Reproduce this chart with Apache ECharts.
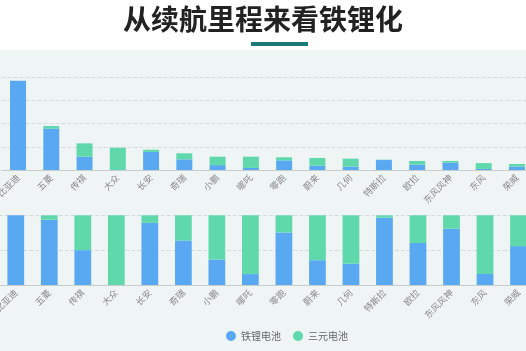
<!DOCTYPE html>
<html>
<head>
<meta charset="utf-8">
<script src="https://cdn.jsdelivr.net/npm/echarts@6/dist/echarts.min.js"></script>
<style>
html,body{margin:0;padding:0;background:#fff;}
#main{width:526px;height:351px;}
</style>
</head>
<body>
<div id="main"></div>
<script>
// 品牌
var brands = ['比亚迪','五菱','传祺','大众','长安','奇瑞','小鹏','哪吒','零跑','蔚来','几何','特斯拉','欧拉','东风风神','东风','荣威'];
// 铁锂电池 / 三元电池
var lfp = [38.5,17.8,5.75,0,7.8,4.6,2.1,0.9,4.15,1.85,1.5,4.3,2.35,3.15,0.47,1.45];
var ncm = [0,1.2,5.75,9.6,0.95,2.6,3.65,4.85,1.35,3.35,3.4,0.15,1.55,0.75,2.5,1.15];

// 占比
var lfpPct = [], ncmPct = [];
for (var i = 0; i < brands.length; i++) {
    var sum = lfp[i] + ncm[i];
    lfpPct.push(lfp[i] / sum * 100);
    ncmPct.push(ncm[i] / sum * 100);
}

var blue = '#58a9f1', green = '#5fd8ab';

var axisLabel = {interval: 0, rotate: 45, fontSize: 9, color: '#888', margin: 6, fontFamily: 'Noto Sans CJK SC'};
var axisLine = {lineStyle: {color: '#c8cccc'}};
var axisTick = {alignWithLabel: true, length: 3, lineStyle: {color: '#c8cccc'}};
var splitLine = {lineStyle: {type: 'dashed', color: '#d6dada'}};

var chart = echarts.init(document.getElementById('main'));
var option = {
    backgroundColor: '#fff',
    animation: false,
    title: {
        text: '从续航里程来看铁锂化',
        left: 'center',
        top: 0,
        textStyle: {fontSize: 28, fontWeight: 'bold', color: '#222', fontFamily: 'Noto Sans CJK SC'}
    },
    graphic: [
        {type: 'rect', z: -10, shape: {x: 0, y: 50, width: 526, height: 301}, style: {fill: '#eff4f4'}},
        {type: 'rect', shape: {x: 251, y: 42, width: 57, height: 4}, style: {fill: '#1b7b7b'}}
    ],
    legend: {
        top: 326,
        left: 221,
        icon: 'circle',
        itemWidth: 10,
        itemHeight: 10,
        itemGap: 12,
        textStyle: {fontSize: 10, color: '#666', fontFamily: 'Noto Sans CJK SC'},
        data: ['铁锂电池','三元电池']
    },
    grid: [
        {left: 1.4, top: 77.3, width: 532.2, height: 92.7, containLabel: false, outerBoundsMode: 'none'},
        {left: -1, top: 215.3, width: 536.3, height: 69.7, containLabel: false, outerBoundsMode: 'none'}
    ],
    xAxis: [
        {type: 'category', gridIndex: 0, data: brands, axisLabel: axisLabel, axisLine: axisLine, axisTick: axisTick},
        {type: 'category', gridIndex: 1, data: brands, axisLabel: axisLabel, axisLine: axisLine, axisTick: axisTick}
    ],
    yAxis: [
        {type: 'value', gridIndex: 0, min: 0, max: 40, interval: 10, axisLabel: {show: false}, splitLine: splitLine},
        {type: 'value', gridIndex: 1, min: 0, max: 100, interval: 50, axisLabel: {show: false}, splitLine: splitLine}
    ],
    series: [
        {name: '铁锂电池', type: 'bar', stack: 'a', xAxisIndex: 0, yAxisIndex: 0, barWidth: '48%', itemStyle: {color: blue}, data: lfp},
        {name: '三元电池', type: 'bar', stack: 'a', xAxisIndex: 0, yAxisIndex: 0, barWidth: '48%', itemStyle: {color: green}, data: ncm},
        {name: '铁锂电池', type: 'bar', stack: 'b', xAxisIndex: 1, yAxisIndex: 1, barWidth: '50%', itemStyle: {color: blue}, data: lfpPct},
        {name: '三元电池', type: 'bar', stack: 'b', xAxisIndex: 1, yAxisIndex: 1, barWidth: '50%', itemStyle: {color: green}, data: ncmPct}
    ]
};
chart.setOption(option);
</script>
</body>
</html>
